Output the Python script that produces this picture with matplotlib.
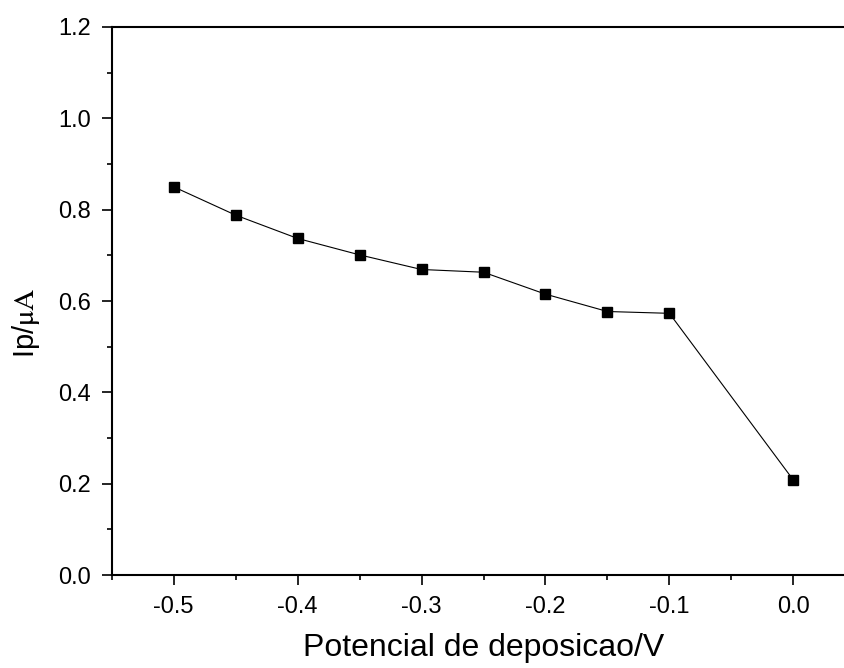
import matplotlib
matplotlib.use('Agg')
import matplotlib.pyplot as plt
from matplotlib.ticker import MultipleLocator

# potencial de deposicao (V) vs Ip (uA)
potencial = [-0.50, -0.45, -0.40, -0.35, -0.30, -0.25, -0.20, -0.15, -0.10, 0.00]
ip = [0.850, 0.788, 0.737, 0.701, 0.669, 0.663, 0.615, 0.577, 0.573, 0.208]

plt.rcParams['font.family'] = ['Liberation Sans', 'DejaVu Sans']
plt.rcParams['mathtext.fontset'] = 'stix'

fig = plt.figure(figsize=(8.45, 6.68), dpi=100)
# axes runs past the right edge, like the cropped original
ax = fig.add_axes([0.1322, 0.1392, 0.880, 0.8204])

ax.plot(potencial, ip, color='black', lw=0.8, marker='s', ms=7,
        markerfacecolor='black', markeredgecolor='black')

ax.set_xlim(-0.55, 0.05)
ax.set_ylim(0.0, 1.2)
ax.xaxis.set_major_locator(MultipleLocator(0.1))
ax.xaxis.set_minor_locator(MultipleLocator(0.05))
ax.yaxis.set_major_locator(MultipleLocator(0.2))
ax.yaxis.set_minor_locator(MultipleLocator(0.1))
ax.xaxis.set_major_formatter(plt.FuncFormatter(lambda v, p: '%.1f' % v if abs(v) > 1e-9 else '0.0'))
ax.yaxis.set_major_formatter(plt.FuncFormatter(lambda v, p: '%.1f' % v))

ax.tick_params(which='major', direction='out', length=7, width=1.2, labelsize=17)
ax.tick_params(axis='x', which='major', pad=8)
ax.tick_params(axis='y', which='major', pad=8)
ax.tick_params(which='minor', direction='out', length=3.6, width=1.2)
ax.tick_params(top=False, right=False)
for s in ax.spines.values():
    s.set_linewidth(1.5)

ax.set_xlabel('Potencial de deposicao/V', fontsize=23)
ax.xaxis.set_label_coords(0.5, -0.105)
ax.set_ylabel(r'Ip/$\mathrm{\mu A}$', fontsize=21)
ax.yaxis.set_label_coords(-0.094, 0.46)

fig.savefig('out.png', dpi=100)
